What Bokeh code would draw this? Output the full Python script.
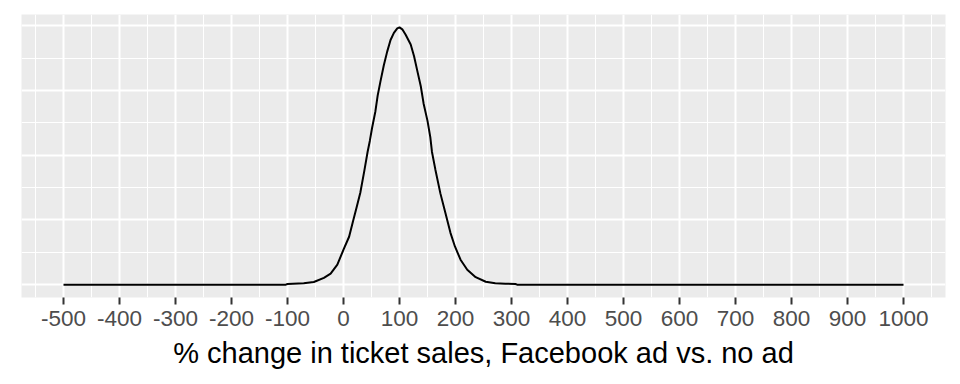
from bokeh.plotting import figure
from bokeh.models import Range1d, FixedTicker, ColumnDataSource
from bokeh.embed import file_html
from bokeh.resources import INLINE

# % change values (x) and density (y)
pct_change = [-500, -103, -100, -71, -53, -35, -23, -11, 0, 10, 17, 23, 30, 37, 43, 47, 51,
              57, 61, 66, 72, 78, 84, 90, 96, 100, 105, 111, 120, 126, 132, 138, 143, 150,
              155, 158, 164, 173, 182, 191, 199, 209, 221, 236, 254, 271, 289, 307, 310, 1000]
density = [0, 0, 0.00002, 0.00004, 0.00008, 0.00021, 0.00034, 0.00062, 0.00108, 0.00148,
           0.00196, 0.00236, 0.00284, 0.00350, 0.00410, 0.00444, 0.00484, 0.00536, 0.00584,
           0.00628, 0.00678, 0.00720, 0.00756, 0.00778, 0.00792, 0.00795, 0.00789, 0.00772,
           0.00742, 0.00706, 0.00659, 0.00613, 0.00560, 0.00506, 0.00456, 0.00410, 0.00356,
           0.00282, 0.00221, 0.00160, 0.00118, 0.00077, 0.00046, 0.00023, 0.00009, 0.00004,
           0.00003, 0.00002, 0, 0]

x_ticks = [-500, -400, -300, -200, -100, 0, 100, 200, 300, 400, 500, 600, 700, 800, 900, 1000]
x_minor = [-550, -450, -350, -250, -150, -50, 50, 150, 250, 350, 450, 550, 650, 750, 850, 950, 1050]
y_ticks = [0, 0.002, 0.004, 0.006, 0.008]
y_minor = [0.001, 0.003, 0.005, 0.007, 0.009]
x_title = "% change in ticket sales, Facebook ad vs. no ad"

xmin, xmax = min(pct_change), max(pct_change)
xpad = (xmax - xmin) * 0.05
ymax = max(density)
ypad = ymax * 0.05

p = figure(frame_width=924, frame_height=283,
           x_range=Range1d(xmin - xpad, xmax + xpad),
           y_range=Range1d(-ypad, ymax + ypad),
           output_backend="svg", toolbar_location=None,
           min_border_left=21, min_border_right=15, min_border_top=14, min_border_bottom=87)

p.background_fill_color = "#EBEBEB"
p.border_fill_color = "white"
p.outline_line_color = None

src = ColumnDataSource(dict(x=pct_change, y=density))
p.line("x", "y", source=src, line_color="black", line_width=2)

p.xaxis.ticker = FixedTicker(ticks=x_ticks, minor_ticks=x_minor)
p.yaxis.ticker = FixedTicker(ticks=y_ticks, minor_ticks=y_minor)
p.xaxis.major_label_overrides = {t: str(t) for t in x_ticks}

p.xgrid.grid_line_color = "white"
p.xgrid.grid_line_width = 2
p.xgrid.minor_grid_line_color = "white"
p.xgrid.minor_grid_line_width = 1
p.ygrid.grid_line_color = "white"
p.ygrid.grid_line_width = 2
p.ygrid.minor_grid_line_color = "white"
p.ygrid.minor_grid_line_width = 1

p.yaxis.visible = False

ax = p.xaxis[0]
ax.axis_line_color = None
ax.major_tick_line_color = "#333333"
ax.major_tick_line_width = 2
ax.major_tick_out = 7
ax.major_tick_in = 0
ax.minor_tick_line_color = None
ax.major_label_text_font = "Liberation Sans"
ax.major_label_text_font_size = "22.5px"
ax.major_label_text_color = "#4D4D4D"
ax.major_label_standoff = 6
ax.axis_label = x_title
ax.axis_label_text_font = "Liberation Sans"
ax.axis_label_text_font_size = "29px"
ax.axis_label_text_font_style = "normal"
ax.axis_label_text_color = "black"
ax.axis_label_standoff = 8

open("out.html", "w").write(file_html(p, INLINE))
